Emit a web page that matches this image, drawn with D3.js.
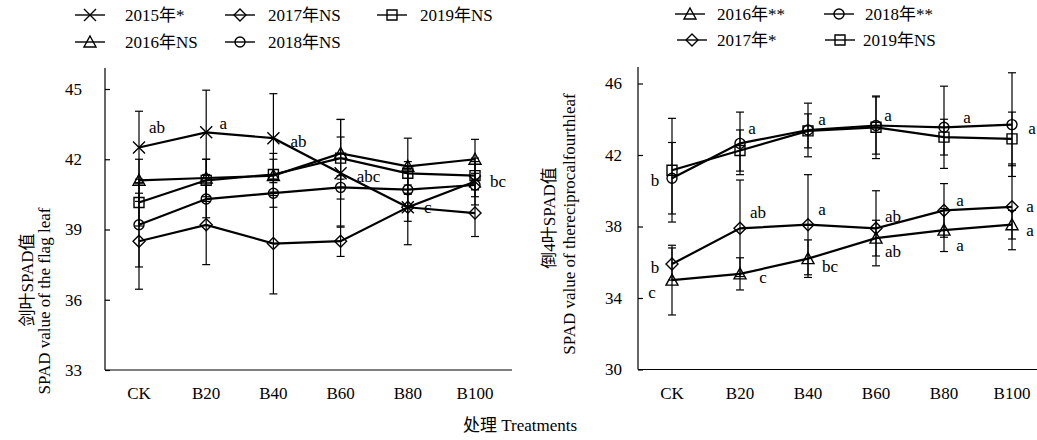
<!DOCTYPE html>
<html>
<head>
<meta charset="utf-8">
<script src="https://cdn.jsdelivr.net/npm/d3@7"></script>
<style>
  body { margin: 0; background: #fff; }
  text { font-family: "Liberation Serif", "Noto Sans CJK SC", serif; fill: #000; }
</style>
</head>
<body>
<div id="chart"></div>
<script>
// DATA
const cats = ["CK", "B20", "B40", "B60", "B80", "B100"];

// flag leaf (left)
const flagNames = ["2015年*", "2016年NS", "2017年NS", "2018年NS", "2019年NS"];
const flag2015 = [42.5, 43.15, 42.9, 41.4, 39.95, 41.05];
const flag2016 = [41.1, 41.2, 41.3, 42.25, 41.7, 42.0];
const flag2017 = [38.5, 39.2, 38.4, 38.5, 39.95, 39.7];
const flag2018 = [39.2, 40.3, 40.55, 40.8, 40.7, 40.9];
const flag2019 = [40.15, 41.1, 41.35, 42.05, 41.4, 41.3];
const flagErr2015 = [1.55, 1.8, 1.9, 2.3, 1.6, 1.0];
const flagErr2016 = [0.9, 0.8, 0.7, 1.45, 1.2, 0.85];
const flagErr2017 = [2.05, 1.7, 2.15, 0.65, 0.6, 1.0];
const flagErr2018 = [1.8, 0.8, 0.6, 0.5, 0.7, 0.5];
const flagErr2019 = [1.0, 0.9, 0.9, 0.9, 0.5, 0.6];
const flagLetters2015 = ["ab", "a", "ab", "abc", "c", "bc"];
const flagTicks = [33, 36, 39, 42, 45];

// fourth leaf (right)
const fourthNames = ["2016年**", "2017年*", "2018年**", "2019年NS"];
const fourth2016 = [35.0, 35.35, 36.2, 37.35, 37.8, 38.1];
const fourth2017 = [35.9, 37.9, 38.1, 37.9, 38.9, 39.1];
const fourth2018 = [40.7, 42.65, 43.4, 43.65, 43.55, 43.7];
const fourth2019 = [41.15, 42.25, 43.35, 43.55, 43.0, 42.9];
const fourthErr2016 = [1.95, 0.9, 1.05, 1.0, 1.2, 0.8];
const fourthErr2017 = [0.9, 2.7, 2.8, 2.1, 1.5, 2.4];
const fourthErr2018 = [2.0, 1.75, 1.5, 1.6, 2.3, 2.9];
const fourthErr2019 = [2.9, 1.15, 0.95, 1.75, 1.0, 1.5];
const fourthLetters2016 = ["c", "c", "bc", "ab", "a", "a"];
const fourthLetters2017 = ["b", "ab", "a", "ab", "a", "a"];
const fourthLetters2018 = ["b", "a", "a", "a", "a", "a"];
const fourthTicks = [30, 34, 38, 42, 46];

const width = 1037;
const height = 440;

const svg = d3.select('#chart')
  .append('svg')
  .attr('width', width)
  .attr('height', height);

// MARKER PATHS
const markerPath = (type, s) => {
  const h = s / 2;
  if (type === 'x') return `M${-h},${-h}L${h},${h}M${-h},${h}L${h},${-h}`;
  if (type === 'triangle') return `M0,${-h - 1}L${h + 1},${h}L${-h - 1},${h}Z`;
  if (type === 'diamond') return `M0,${-h - 1}L${h + 1},0L0,${h + 1}L${-h - 1},0Z`;
  if (type === 'square') return `M${-h},${-h}H${h}V${h}H${-h}Z`;
  if (type === 'circle') return d3.symbol(d3.symbolCircle, Math.PI * h * h)();
};

const drawPanel = (opts) => {
  const g = svg.append('g');
  const x = d3.scalePoint().domain(cats).range(opts.xRange);
  const y = d3.scaleLinear().domain(opts.yDomain).range(opts.yRange);

  // Y-AXIS
  const yAxis = g.append('g')
    .attr('transform', `translate(${opts.axisX},0)`)
    .call(d3.axisLeft(y).tickValues(opts.ticks).tickSizeInner(-5).tickSizeOuter(0).tickPadding(opts.tickPad));
  yAxis.select('.domain').remove();
  yAxis.selectAll('line').attr('stroke', '#000').attr('stroke-width', 1.2);
  yAxis.selectAll('text').attr('font-size', 17).attr('font-family', '"Liberation Serif", serif');

  g.append('line')
    .attr('x1', opts.axisX).attr('x2', opts.axisX)
    .attr('y1', opts.axisTop).attr('y2', opts.yRange[0])
    .attr('stroke', '#000').attr('stroke-width', 1.2);
  g.append('line')
    .attr('x1', opts.axisX).attr('x2', opts.axisRight)
    .attr('y1', opts.yRange[0]).attr('y2', opts.yRange[0])
    .attr('stroke', '#000').attr('stroke-width', 1.2);

  // X LABELS
  g.selectAll('.xlab')
    .data(cats)
    .enter()
    .append('text')
    .attr('x', d => x(d))
    .attr('y', opts.yRange[0] + 29)
    .attr('text-anchor', 'middle')
    .attr('font-size', 17)
    .text(d => d);

  // SERIES
  opts.series.forEach(s => {
    // error bars
    s.values.forEach((v, i) => {
      const cx = x(cats[i]);
      const e = s.err[i];
      g.append('line')
        .attr('x1', cx).attr('x2', cx)
        .attr('y1', y(v - e)).attr('y2', y(v + e))
        .attr('stroke', '#000').attr('stroke-width', 1.2);
      [v - e, v + e].forEach(w => {
        g.append('line')
          .attr('x1', cx - 4).attr('x2', cx + 4)
          .attr('y1', y(w)).attr('y2', y(w))
          .attr('stroke', '#000').attr('stroke-width', 1.2);
      });
    });

    g.append('path')
      .datum(s.values)
      .attr('fill', 'none')
      .attr('stroke', '#000')
      .attr('stroke-width', 2.2)
      .attr('d', d3.line()
        .x((d, i) => x(cats[i]))
        .y(d => y(d)));

    g.append('g')
      .selectAll('path')
      .data(s.values)
      .enter()
      .append('path')
      .attr('transform', (d, i) => `translate(${x(cats[i])},${y(d)})`)
      .attr('d', markerPath(s.marker, s.marker === 'x' ? 12 : 10))
      .attr('fill', 'none')
      .attr('stroke', '#000')
      .attr('stroke-width', 1.4);

    if (s.letters) {
      g.append('g')
        .selectAll('text')
        .data(s.letters)
        .enter()
        .append('text')
        .attr('x', (d, i) => x(cats[i]) + s.offsets[i][0])
        .attr('y', (d, i) => y(s.values[i]) + s.offsets[i][1])
        .attr('dy', '0.35em')
        .attr('text-anchor', 'middle')
        .attr('font-size', 17)
        .text(d => d);
    }
  });

  // LEGEND
  opts.legend.forEach(l => {
    const lg = svg.append('g').attr('transform', `translate(${l.x},${l.y})`);
    lg.append('line')
      .attr('x1', -15).attr('x2', 15)
      .attr('stroke', '#000').attr('stroke-width', 1.4);
    lg.append('path')
      .attr('d', markerPath(l.marker, l.marker === 'x' ? 12 : 10))
      .attr('fill', 'none').attr('stroke', '#000').attr('stroke-width', 1.4);
    lg.append('text')
      .attr('x', l.tx)
      .attr('dy', '0.35em')
      .attr('font-size', 17)
      .text(l.name);
  });

  // Y TITLE
  opts.titles.forEach(t => {
    svg.append('text')
      .attr('transform', `translate(${t.x},${t.y}) rotate(-90)`)
      .attr('text-anchor', 'middle')
      .attr('dy', '0.35em')
      .attr('font-size', 17)
      .text(t.text);
  });
};

drawPanel({
  xRange: [139, 475],
  yDomain: [33, 45],
  yRange: [370, 89],
  axisX: 105,
  axisTop: 68,
  axisRight: 512,
  tickPad: 23,
  ticks: flagTicks,
  series: [
    { values: flag2015, err: flagErr2015, marker: 'x', letters: flagLetters2015,
      offsets: [[18, -20], [17, -9], [25, 3], [28, 3], [20, 0], [23, 0]] },
    { values: flag2016, err: flagErr2016, marker: 'triangle' },
    { values: flag2017, err: flagErr2017, marker: 'diamond' },
    { values: flag2018, err: flagErr2018, marker: 'circle' },
    { values: flag2019, err: flagErr2019, marker: 'square' }
  ],
  legend: [
    { name: flagNames[0], marker: 'x', x: 90, y: 15, tx: 35 },
    { name: flagNames[2], marker: 'diamond', x: 240, y: 15, tx: 28 },
    { name: flagNames[4], marker: 'square', x: 392, y: 15, tx: 28 },
    { name: flagNames[1], marker: 'triangle', x: 90, y: 42, tx: 35 },
    { name: flagNames[3], marker: 'circle', x: 240, y: 42, tx: 28 }
  ],
  titles: [
    { text: '剑叶SPAD值', x: 27, y: 280 },
    { text: 'SPAD value of the flag leaf', x: 44, y: 301 }
  ]
});

drawPanel({
  xRange: [672, 1012],
  yDomain: [30, 46],
  yRange: [369.5, 83.5],
  axisX: 638,
  axisTop: 67,
  axisRight: 1040,
  tickPad: 16,
  ticks: fourthTicks,
  series: [
    { values: fourth2016, err: fourthErr2016, marker: 'triangle', letters: fourthLetters2016,
      offsets: [[-20, 12], [23, 3], [22, 7], [17, 13], [16, 15], [18, 5]] },
    { values: fourth2017, err: fourthErr2017, marker: 'diamond', letters: fourthLetters2017,
      offsets: [[-17, 3], [18, -16], [14, -16], [17, -12], [16, -10], [18, -1]] },
    { values: fourth2018, err: fourthErr2018, marker: 'circle', letters: fourthLetters2018,
      offsets: [[-17, 2], [12, -15], [14, -11], [12, -10], [23, -10], [20, 3]] },
    { values: fourth2019, err: fourthErr2019, marker: 'square' }
  ],
  legend: [
    { name: fourthNames[0], marker: 'triangle', x: 690, y: 14, tx: 27 },
    { name: fourthNames[2], marker: 'circle', x: 839, y: 14, tx: 26 },
    { name: fourthNames[1], marker: 'diamond', x: 692, y: 40, tx: 25 },
    { name: fourthNames[3], marker: 'square', x: 840, y: 40, tx: 23 }
  ],
  titles: [
    { text: '倒4叶SPAD值', x: 549, y: 218 },
    { text: 'SPAD value of thereciprocalfourthleaf', x: 569, y: 224 }
  ]
});

// X TITLE
svg.append('text')
  .attr('x', 520)
  .attr('y', 431)
  .attr('text-anchor', 'middle')
  .attr('font-size', 17)
  .text('处理 Treatments');
</script>
</body>
</html>
